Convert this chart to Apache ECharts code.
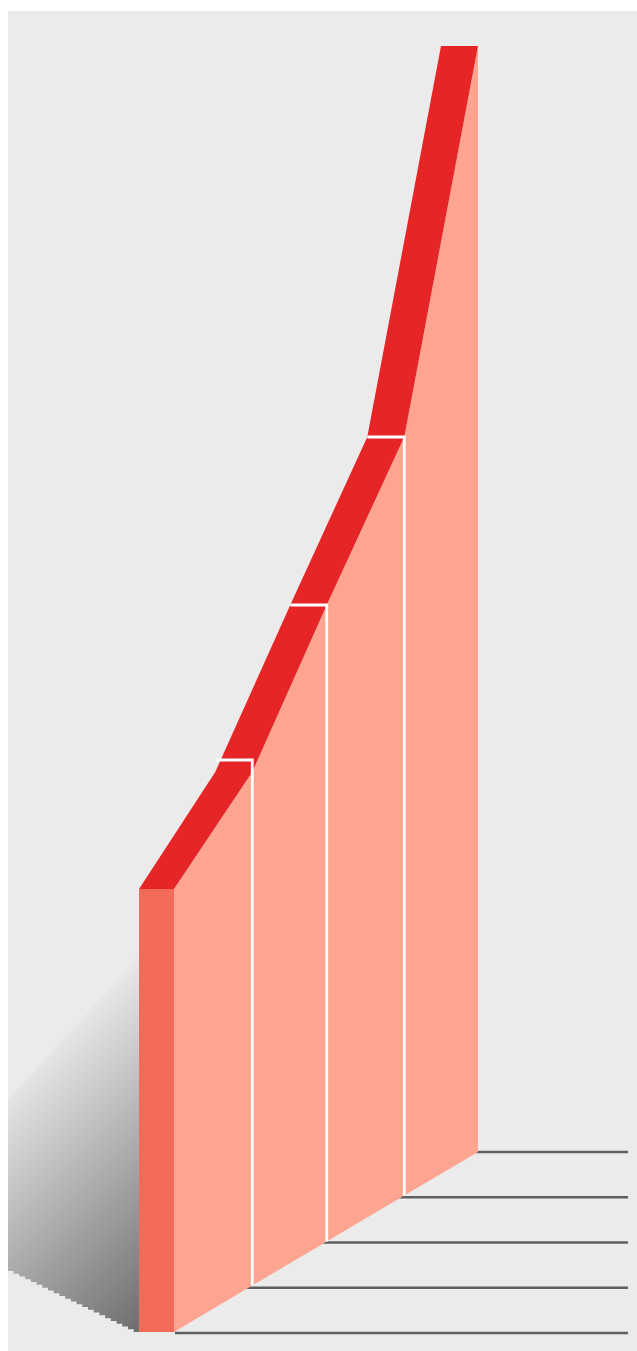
<!DOCTYPE html>
<html>
<head>
<meta charset="utf-8">
<style>
    html, body { margin: 0; padding: 0; background: #fff; }
    #chart { width: 637px; height: 1351px; }
</style>
<script src="https://cdn.jsdelivr.net/npm/echarts@6/dist/echarts.min.js"></script>
</head>
<body>
<div id="chart"></div>
<script>
// x is counted in category steps along the sloped floor, y in floor-relative units
var steps = [0, 1.03, 2.01, 3.03, 4];
var floors = [0, 46.4, 90.5, 136.4, 180];
var tops = [443, 560, 727, 895, 1286];
var depths = [0.46, 0.487, 0.48, 0.487, 0.487];
var capLevels = [572, 727, 895];
var gridLevels = [-1, 44.25, 89.5, 134.75, 180];
var gridStart = 0.013;
var gridEnd = 5.974;
var shadowTop = [[-0.46, 376], [-2.184, 232]];
var shadowBottom = [[-2.184, 61], [-0.53, 0], [-0.46, 0]];
var shadowStairs = 22;

function polygon(points, fill) {
    return {
        type: 'polygon',
        shape: { points: points },
        style: { fill: fill }
    };
}

function once(draw) {
    return function (params, api) {
        return params.dataIndex === 0 ? draw(api) : null;
    };
}

function renderShadow(api) {
    var a = shadowBottom[0], b = shadowBottom[1];
    var outline = shadowTop.concat([a]);
    // the lower edge of the shadow is stepped, as in the original raster
    for (var i = 1; i <= shadowStairs; i++) {
        var x = a[0] + (b[0] - a[0]) * i / shadowStairs;
        var prevY = a[1] + (b[1] - a[1]) * (i - 1) / shadowStairs;
        outline.push([x, prevY]);
        outline.push([x, a[1] + (b[1] - a[1]) * i / shadowStairs]);
    }
    outline.push(shadowBottom[2]);
    var points = outline.map(function (p) { return api.coord(p); });
    var from = api.coord(shadowTop[0]);
    var to = api.coord(shadowBottom[2]);
    var d = ((to[0] - from[0]) + (to[1] - from[1])) / 2;
    return polygon(points, new echarts.graphic.LinearGradient(
        from[0], from[1], from[0] + d, from[1] + d,
        [{ offset: 0, color: '#e8e8e8' }, { offset: 1, color: '#6e6e6e' }],
        true
    ));
}

function renderSide(api) {
    var upper = steps.map(function (s, i) { return api.coord([s, tops[i]]); });
    var lower = steps.map(function (s, i) { return api.coord([s, floors[i]]); }).reverse();
    return polygon(upper.concat(lower), '#fea591');
}

function renderRibbon(api) {
    var right = steps.map(function (s, i) { return api.coord([s, tops[i]]); });
    var left = steps.map(function (s, i) { return api.coord([s - depths[i], tops[i]]); }).reverse();
    return polygon(right.concat(left), '#e62527');
}

function renderFront(api) {
    return polygon([
        api.coord([-depths[0], tops[0]]),
        api.coord([steps[0], tops[0]]),
        api.coord([steps[0], floors[0]]),
        api.coord([-depths[0], floors[0]])
    ], '#f46a59');
}

function renderGridLine(params, api) {
    var a = api.coord([gridStart, api.value(0)]);
    var b = api.coord([gridEnd, api.value(0)]);
    return {
        type: 'line',
        shape: { x1: a[0], y1: a[1], x2: b[0], y2: b[1] },
        style: { stroke: '#5f5f5f', lineWidth: 2.6 }
    };
}

function renderDivider(params, api) {
    var s = api.value(0), level = api.value(1);
    return {
        type: 'polyline',
        shape: {
            points: [
                api.coord([s - api.value(3), level]),
                api.coord([s, level]),
                api.coord([s, api.value(2)])
            ]
        },
        style: { stroke: '#fff', fill: 'none', lineWidth: 2.8 }
    };
}

function customSeries(renderItem, data, z) {
    return {
        type: 'custom',
        coordinateSystem: 'cartesian2d',
        renderItem: renderItem,
        data: data,
        z: z,
        silent: true,
        animation: false,
        clip: true
    };
}

var chart = echarts.init(document.getElementById('chart'));
chart.setOption({
    animation: false,
    grid: {
        show: true,
        left: 8, right: 0, top: 11, bottom: 0,
        backgroundColor: '#ebebeb',
        borderWidth: 0
    },
    xAxis: { type: 'value', min: -2.184, max: 6.092, show: false },
    yAxis: { type: 'value', min: -19, max: 1321, show: false },
    series: [
        customSeries(once(renderShadow), [[0, 0]], 1),
        customSeries(renderGridLine, gridLevels.map(function (v) { return [v]; }), 2),
        customSeries(once(renderSide), [[0, 0]], 3),
        customSeries(once(renderRibbon), [[0, 0]], 4),
        customSeries(once(renderFront), [[0, 0]], 5),
        customSeries(renderDivider, capLevels.map(function (v, i) {
            return [steps[i + 1], v, floors[i + 1], depths[i + 1]];
        }), 6)
    ]
});

window.addEventListener('resize', function () {
    chart.resize();
});
</script>
</body>
</html>
